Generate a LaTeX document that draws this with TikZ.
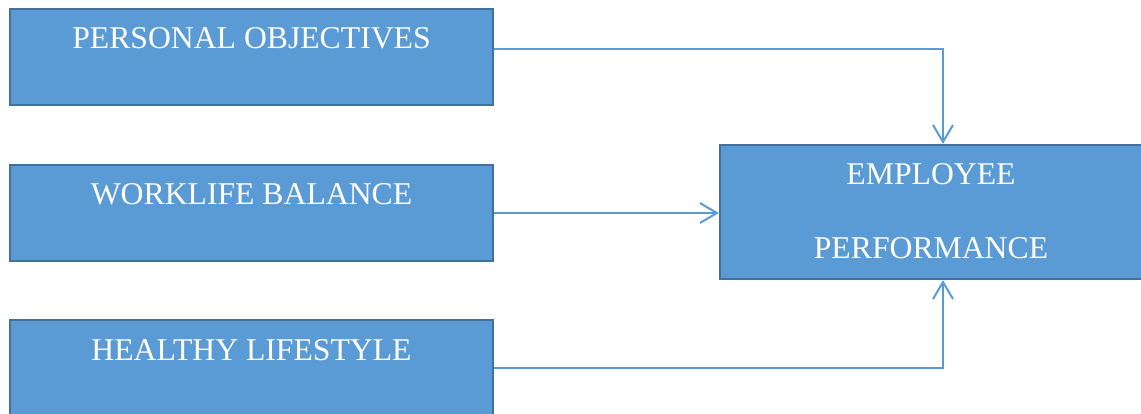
\documentclass[tikz,border=0pt]{standalone}
\usepackage{fontspec}
\setmainfont{Liberation Serif}
\usetikzlibrary{arrows.meta}
\definecolor{boxfill}{HTML}{5B9BD5}
\definecolor{boxline}{HTML}{41719C}
\definecolor{arrowc}{HTML}{5B9BD5}
\begin{document}
\begin{tikzpicture}[x=1pt,y=-1pt,
  box/.style={draw=boxline, line width=2.2pt, fill=boxfill, rectangle, inner sep=0pt},
  lbl/.style={anchor=base, text=white, inner sep=0pt, font=\fontsize{31.7}{38}\selectfont},
  conn/.style={draw=arrowc, line width=1.6pt, -{Straight Barb[length=17pt,width=20pt,line width=2pt]}}]
\fill[white] (0,0) rectangle (1141,414);
\useasboundingbox (0,0) rectangle (1141,414);
\node[box, minimum width=483pt, minimum height=96pt] (b1) at (251.5,57) {};
\node[box, minimum width=483pt, minimum height=96pt] (b2) at (251.5,213) {};
\node[box, minimum width=483pt, minimum height=96pt] (b3) at (251.5,368) {};
\node[box, minimum width=422pt, minimum height=134pt] (emp) at (931,212) {};
\node[lbl] (t1) at (251.5,49) {PERSONAL OBJECTIVES};
\node[lbl] (t2) at (251.5,205) {WORKLIFE BALANCE};
\node[lbl] (t3) at (251.5,360) {HEALTHY LIFESTYLE};
\node[lbl] (t4) at (931,185) {EMPLOYEE};
\node[lbl] (t5) at (931,259) {PERFORMANCE};
\draw[conn] ([yshift=8pt]b1.east) -| ([xshift=12pt]emp.north);
\draw[conn] (b2.east) -- (emp.west |- b2.east);
\draw[conn] (b3.east) -| ([xshift=12pt]emp.south);
\end{tikzpicture}
\end{document}
